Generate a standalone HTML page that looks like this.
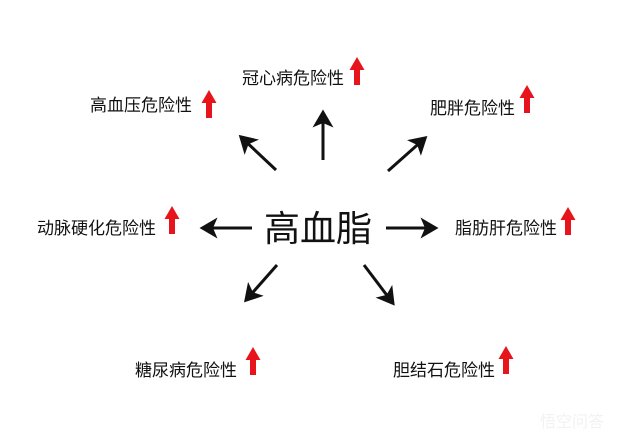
<!DOCTYPE html>
<html><head><meta charset="utf-8"><style>
html,body{margin:0;padding:0;background:#fff;}
svg{display:block;}
text{font-family:"Liberation Sans","Noto Sans CJK SC",sans-serif;fill:#111;}
</style></head><body>
<svg width="640" height="443" viewBox="0 0 640 443" xmlns="http://www.w3.org/2000/svg">
<defs>
<marker id="ah" markerWidth="7" markerHeight="7" refX="4.5" refY="3.5" orient="auto" markerUnits="strokeWidth">
<path d="M0,0 L6,3.5 L0,7 L1.5,3.5 Z" fill="#111"/>
</marker>
<path id="ra" d="M-3,28 L-3,13 L-7.5,13 L0,0 L7.5,13 L3,13 L3,28 Z" fill="#e8141b"/>
</defs>
<g stroke="#111" stroke-width="3" fill="none" marker-end="url(#ah)">
<line x1="276" y1="170" x2="242" y2="138"/>
<line x1="323" y1="160" x2="323" y2="114"/>
<line x1="388" y1="171" x2="424" y2="139"/>
<line x1="252" y1="228" x2="204" y2="228"/>
<line x1="386" y1="228" x2="434" y2="228"/>
<line x1="277" y1="265" x2="247" y2="299"/>
<line x1="364" y1="265" x2="392" y2="302"/>
</g>
<text x="318" y="241" font-size="36" text-anchor="middle">高血脂</text>
<text x="90" y="111" font-size="17">高血压危险性</text>
<text x="242" y="84" font-size="17">冠心病危险性</text>
<text x="430" y="114" font-size="17">肥胖危险性</text>
<text x="37" y="234" font-size="17">动脉硬化危险性</text>
<text x="455" y="234" font-size="17">脂肪肝危险性</text>
<text x="135" y="376" font-size="17">糖尿病危险性</text>
<text x="393" y="376" font-size="17">胆结石危险性</text>
<use href="#ra" x="209" y="90"/>
<use href="#ra" x="357" y="57"/>
<use href="#ra" x="527" y="85"/>
<use href="#ra" x="172" y="206"/>
<use href="#ra" x="568" y="207"/>
<use href="#ra" x="253" y="347"/>
<use href="#ra" x="506" y="346"/>
<text x="540" y="427" font-size="16" style="fill:#f2f2f2">悟空问答</text>
</svg>
</body></html>
